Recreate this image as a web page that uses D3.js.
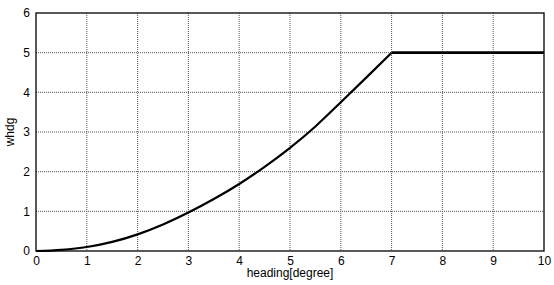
<!DOCTYPE html>
<head>
	<script src="https://d3js.org/d3.v7.min.js"></script>
	<style>
		body { margin: 0; background: #fff; }
		text { font-family: "Liberation Sans", Arial, sans-serif; font-size: 12px; fill: #000; }
	</style>
</head>
<body>
<svg></svg>
<script>
	// curve
	var headings = [0, 0.5, 1, 1.5, 2, 2.5, 3, 3.5, 4, 4.5, 5, 5.5, 6, 6.5, 7, 10];
	var whdg = [0, 0.03, 0.1, 0.23, 0.42, 0.67, 0.97, 1.31, 1.69, 2.12, 2.6, 3.14, 3.75, 4.37, 5, 5];
	var xTicks = [0, 1, 2, 3, 4, 5, 6, 7, 8, 9, 10];
	var yTicks = [0, 1, 2, 3, 4, 5, 6];

	var width = 554, height = 285;
	var padL = 36, padR = 544, padT = 13, padB = 251;

	var svg = d3.select("svg")
		.attr("width", width)
		.attr("height", height);

	var x = d3.scaleLinear().domain([0, 10]).range([padL, padR]);
	var y = d3.scaleLinear().domain([0, 6]).range([padB, padT]);

	// grid
	svg.append("g").selectAll("line").data(xTicks.slice(1, -1)).enter()
		.append("line")
		.attr("x1", function(d) { return x(d); })
		.attr("x2", function(d) { return x(d); })
		.attr("y1", padT).attr("y2", padB)
		.attr("stroke", "#555").attr("stroke-dasharray", "1,1");
	svg.append("g").selectAll("line").data(yTicks.slice(1, -1)).enter()
		.append("line")
		.attr("y1", function(d) { return y(d); })
		.attr("y2", function(d) { return y(d); })
		.attr("x1", padL).attr("x2", padR)
		.attr("stroke", "#555").attr("stroke-dasharray", "1,1");

	// axes
	var xAxis = d3.axisBottom(x).tickValues(xTicks).tickFormat(d3.format("d")).tickSize(0).tickPadding(5);
	var yAxis = d3.axisLeft(y).tickValues(yTicks).tickFormat(d3.format("d")).tickSize(0).tickPadding(6);
	svg.append("g").attr("transform", "translate(0," + padB + ")").call(xAxis)
		.call(function(g) { g.select(".domain").remove(); })
		.selectAll("text").style("font-size", "12px").style("font-family", "Liberation Sans, Arial, sans-serif");
	svg.append("g").attr("transform", "translate(" + padL + ",0)").call(yAxis)
		.call(function(g) { g.select(".domain").remove(); })
		.selectAll("text").style("font-size", "12px").style("font-family", "Liberation Sans, Arial, sans-serif");

	// frame
	svg.append("rect")
		.attr("x", padL).attr("y", padT)
		.attr("width", padR - padL).attr("height", padB - padT)
		.attr("fill", "none").attr("stroke", "#000").attr("stroke-width", 1.3);

	// curve: smooth rise up to the corner, straight after it
	var pts = headings.map(function(h, i) { return [h, whdg[i]]; });
	var corner = headings.indexOf(7);
	var smooth = d3.line()
		.x(function(d) { return x(d[0]); })
		.y(function(d) { return y(d[1]); })
		.curve(d3.curveMonotoneX);
	var straight = d3.line()
		.x(function(d) { return x(d[0]); })
		.y(function(d) { return y(d[1]); });
	svg.append("path")
		.attr("d", smooth(pts.slice(0, corner + 1)))
		.attr("fill", "none")
		.attr("stroke", "#000")
		.attr("stroke-width", 2.2);
	svg.append("path")
		.attr("d", straight(pts.slice(corner)))
		.attr("fill", "none")
		.attr("stroke", "#000")
		.attr("stroke-width", 2.6);

	// labels
	svg.append("text")
		.attr("x", (padL + padR) / 2)
		.attr("y", 277)
		.attr("text-anchor", "middle")
		.text("heading[degree]");
	svg.append("text")
		.attr("transform", "translate(14," + ((padT + padB) / 2) + ") rotate(-90)")
		.attr("text-anchor", "middle")
		.text("whdg");
</script>
</body>
</html>
